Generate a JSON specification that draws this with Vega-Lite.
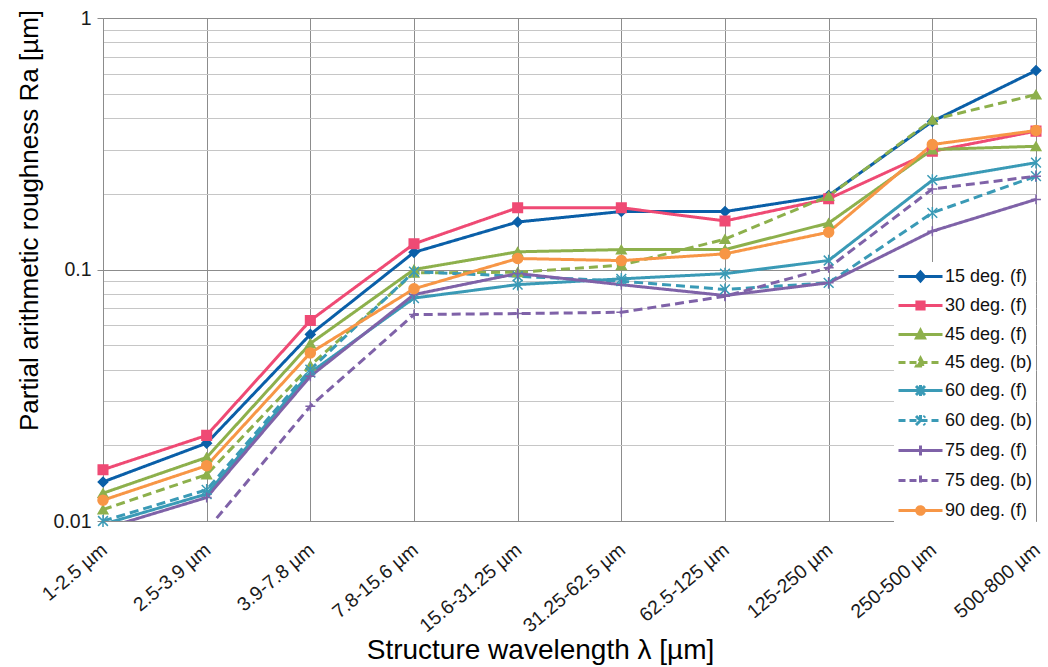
{
  "$schema": "https://vega.github.io/schema/vega-lite/v6.json",
  "width": 933,
  "height": 503,
  "autosize": {"type": "none"},
  "padding": {"left": 103, "top": 18, "right": 12, "bottom": 146},
  "background": "white",
  "config": {"view": {"stroke": null}, "font": "Liberation Sans"},
  "datasets": {
    "roughness": [
      {"band": "1-2.5 µm", "series": "15 deg. (f)", "ra": 0.0143},
      {"band": "2.5-3.9 µm", "series": "15 deg. (f)", "ra": 0.0204},
      {"band": "3.9-7.8 µm", "series": "15 deg. (f)", "ra": 0.0552},
      {"band": "7.8-15.6 µm", "series": "15 deg. (f)", "ra": 0.117},
      {"band": "15.6-31.25 µm", "series": "15 deg. (f)", "ra": 0.1545},
      {"band": "31.25-62.5 µm", "series": "15 deg. (f)", "ra": 0.170},
      {"band": "62.5-125 µm", "series": "15 deg. (f)", "ra": 0.170},
      {"band": "125-250 µm", "series": "15 deg. (f)", "ra": 0.197},
      {"band": "250-500 µm", "series": "15 deg. (f)", "ra": 0.388},
      {"band": "500-800 µm", "series": "15 deg. (f)", "ra": 0.618},

      {"band": "1-2.5 µm", "series": "30 deg. (f)", "ra": 0.0160},
      {"band": "2.5-3.9 µm", "series": "30 deg. (f)", "ra": 0.0219},
      {"band": "3.9-7.8 µm", "series": "30 deg. (f)", "ra": 0.0627},
      {"band": "7.8-15.6 µm", "series": "30 deg. (f)", "ra": 0.1265},
      {"band": "15.6-31.25 µm", "series": "30 deg. (f)", "ra": 0.176},
      {"band": "31.25-62.5 µm", "series": "30 deg. (f)", "ra": 0.176},
      {"band": "62.5-125 µm", "series": "30 deg. (f)", "ra": 0.156},
      {"band": "125-250 µm", "series": "30 deg. (f)", "ra": 0.191},
      {"band": "250-500 µm", "series": "30 deg. (f)", "ra": 0.295},
      {"band": "500-800 µm", "series": "30 deg. (f)", "ra": 0.355},

      {"band": "1-2.5 µm", "series": "45 deg. (f)", "ra": 0.0129},
      {"band": "2.5-3.9 µm", "series": "45 deg. (f)", "ra": 0.0179},
      {"band": "3.9-7.8 µm", "series": "45 deg. (f)", "ra": 0.0508},
      {"band": "7.8-15.6 µm", "series": "45 deg. (f)", "ra": 0.100},
      {"band": "15.6-31.25 µm", "series": "45 deg. (f)", "ra": 0.1176},
      {"band": "31.25-62.5 µm", "series": "45 deg. (f)", "ra": 0.120},
      {"band": "62.5-125 µm", "series": "45 deg. (f)", "ra": 0.120},
      {"band": "125-250 µm", "series": "45 deg. (f)", "ra": 0.153},
      {"band": "250-500 µm", "series": "45 deg. (f)", "ra": 0.300},
      {"band": "500-800 µm", "series": "45 deg. (f)", "ra": 0.309},

      {"band": "1-2.5 µm", "series": "45 deg. (b)", "ra": 0.0111},
      {"band": "2.5-3.9 µm", "series": "45 deg. (b)", "ra": 0.0153},
      {"band": "3.9-7.8 µm", "series": "45 deg. (b)", "ra": 0.0415},
      {"band": "7.8-15.6 µm", "series": "45 deg. (b)", "ra": 0.097},
      {"band": "15.6-31.25 µm", "series": "45 deg. (b)", "ra": 0.0975},
      {"band": "31.25-62.5 µm", "series": "45 deg. (b)", "ra": 0.104},
      {"band": "62.5-125 µm", "series": "45 deg. (b)", "ra": 0.132},
      {"band": "125-250 µm", "series": "45 deg. (b)", "ra": 0.196},
      {"band": "250-500 µm", "series": "45 deg. (b)", "ra": 0.394},
      {"band": "500-800 µm", "series": "45 deg. (b)", "ra": 0.496},

      {"band": "1-2.5 µm", "series": "60 deg. (f)", "ra": 0.0097},
      {"band": "2.5-3.9 µm", "series": "60 deg. (f)", "ra": 0.0128},
      {"band": "3.9-7.8 µm", "series": "60 deg. (f)", "ra": 0.0389},
      {"band": "7.8-15.6 µm", "series": "60 deg. (f)", "ra": 0.077},
      {"band": "15.6-31.25 µm", "series": "60 deg. (f)", "ra": 0.0871},
      {"band": "31.25-62.5 µm", "series": "60 deg. (f)", "ra": 0.0918},
      {"band": "62.5-125 µm", "series": "60 deg. (f)", "ra": 0.0963},
      {"band": "125-250 µm", "series": "60 deg. (f)", "ra": 0.1086},
      {"band": "250-500 µm", "series": "60 deg. (f)", "ra": 0.2265},
      {"band": "500-800 µm", "series": "60 deg. (f)", "ra": 0.266},

      {"band": "1-2.5 µm", "series": "60 deg. (b)", "ra": 0.0100},
      {"band": "2.5-3.9 µm", "series": "60 deg. (b)", "ra": 0.0133},
      {"band": "3.9-7.8 µm", "series": "60 deg. (b)", "ra": 0.0400},
      {"band": "7.8-15.6 µm", "series": "60 deg. (b)", "ra": 0.098},
      {"band": "15.6-31.25 µm", "series": "60 deg. (b)", "ra": 0.094},
      {"band": "31.25-62.5 µm", "series": "60 deg. (b)", "ra": 0.0899},
      {"band": "62.5-125 µm", "series": "60 deg. (b)", "ra": 0.0833},
      {"band": "125-250 µm", "series": "60 deg. (b)", "ra": 0.0885},
      {"band": "250-500 µm", "series": "60 deg. (b)", "ra": 0.168},
      {"band": "500-800 µm", "series": "60 deg. (b)", "ra": 0.235},

      {"band": "1-2.5 µm", "series": "75 deg. (f)", "ra": 0.0093},
      {"band": "2.5-3.9 µm", "series": "75 deg. (f)", "ra": 0.0124},
      {"band": "3.9-7.8 µm", "series": "75 deg. (f)", "ra": 0.0376},
      {"band": "7.8-15.6 µm", "series": "75 deg. (f)", "ra": 0.0795},
      {"band": "15.6-31.25 µm", "series": "75 deg. (f)", "ra": 0.0964},
      {"band": "31.25-62.5 µm", "series": "75 deg. (f)", "ra": 0.087},
      {"band": "62.5-125 µm", "series": "75 deg. (f)", "ra": 0.0788},
      {"band": "125-250 µm", "series": "75 deg. (f)", "ra": 0.0885},
      {"band": "250-500 µm", "series": "75 deg. (f)", "ra": 0.142},
      {"band": "500-800 µm", "series": "75 deg. (f)", "ra": 0.190},

      {"band": "1-2.5 µm", "series": "75 deg. (b)", "ra": 0.0065},
      {"band": "2.5-3.9 µm", "series": "75 deg. (b)", "ra": 0.0092},
      {"band": "3.9-7.8 µm", "series": "75 deg. (b)", "ra": 0.0286},
      {"band": "7.8-15.6 µm", "series": "75 deg. (b)", "ra": 0.0662},
      {"band": "15.6-31.25 µm", "series": "75 deg. (b)", "ra": 0.0668},
      {"band": "31.25-62.5 µm", "series": "75 deg. (b)", "ra": 0.0676},
      {"band": "62.5-125 µm", "series": "75 deg. (b)", "ra": 0.0783},
      {"band": "125-250 µm", "series": "75 deg. (b)", "ra": 0.1016},
      {"band": "250-500 µm", "series": "75 deg. (b)", "ra": 0.209},
      {"band": "500-800 µm", "series": "75 deg. (b)", "ra": 0.235},

      {"band": "1-2.5 µm", "series": "90 deg. (f)", "ra": 0.0121},
      {"band": "2.5-3.9 µm", "series": "90 deg. (f)", "ra": 0.0166},
      {"band": "3.9-7.8 µm", "series": "90 deg. (f)", "ra": 0.0466},
      {"band": "7.8-15.6 µm", "series": "90 deg. (f)", "ra": 0.0838},
      {"band": "15.6-31.25 µm", "series": "90 deg. (f)", "ra": 0.1106},
      {"band": "31.25-62.5 µm", "series": "90 deg. (f)", "ra": 0.1085},
      {"band": "62.5-125 µm", "series": "90 deg. (f)", "ra": 0.1154},
      {"band": "125-250 µm", "series": "90 deg. (f)", "ra": 0.1407},
      {"band": "250-500 µm", "series": "90 deg. (f)", "ra": 0.314},
      {"band": "500-800 µm", "series": "90 deg. (f)", "ra": 0.357}
    ]
  },
  "data": {"name": "roughness"},
  "layer": [
    {
      "mark": {"type": "line", "strokeWidth": 3, "clip": true},
      "encoding": {
        "x": {
          "field": "band",
          "type": "ordinal",
          "sort": ["1-2.5 µm", "2.5-3.9 µm", "3.9-7.8 µm", "7.8-15.6 µm", "15.6-31.25 µm", "31.25-62.5 µm", "62.5-125 µm", "125-250 µm", "250-500 µm", "500-800 µm"],
          "scale": {"type": "point", "padding": 0},
          "axis": {
            "title": "Structure wavelength λ [µm]",
            "titleFontSize": 28,
            "titleFontWeight": "normal",
            "titleColor": "#000000",
            "titleX": 437,
            "titleY": 129,
            "titleAlign": "center",
            "titleBaseline": "middle",
            "labelAngle": -40,
            "labelAlign": "right",
            "labelBaseline": "middle",
            "labelFontSize": 19.5,
            "labelColor": "#1a1a1a",
            "labelPadding": 26,
            "labelOffset": 1,
            "ticks": false,
            "grid": true,
            "gridColor": "#8c8c8c",
            "domainColor": "#8c8c8c"
          }
        },
        "y": {
          "field": "ra",
          "type": "quantitative",
          "scale": {"type": "log", "domain": [0.01, 1], "nice": false},
          "axis": {
            "values": [0.01, 0.02, 0.03, 0.04, 0.05, 0.06, 0.07, 0.08, 0.09, 0.1, 0.2, 0.3, 0.4, 0.5, 0.6, 0.7, 0.8, 0.9, 1],
            "labelExpr": "datum.value == 1 ? '1' : datum.value == 0.1 ? '0.1' : datum.value == 0.01 ? '0.01' : ''",
            "labelOverlap": false,
            "labelFontSize": 19.5,
            "labelColor": "#1a1a1a",
            "labelPadding": 6,
            "grid": true,
            "gridColor": {"condition": {"test": "datum.value == 1 || datum.value == 0.1 || datum.value == 0.01", "value": "#8c8c8c"}, "value": "#c6c6c6"},
            "tickOpacity": {"condition": {"test": "datum.value == 1 || datum.value == 0.1 || datum.value == 0.01", "value": 1}, "value": 0},
            "tickColor": "#8c8c8c",
            "tickSize": 6,
            "domainColor": "#8c8c8c",
            "title": "Partial arithmetic roughness Ra [µm]",
            "titleFontSize": 26,
            "titleFontWeight": "normal",
            "titleColor": "#000000",
            "titleAngle": -90,
            "titleAlign": "center",
            "titleBaseline": "middle",
            "titleX": -74,
            "titleY": 202
          }
        },
        "color": {
          "field": "series",
          "type": "nominal",
          "scale": {
            "domain": ["15 deg. (f)", "30 deg. (f)", "45 deg. (f)", "45 deg. (b)", "60 deg. (f)", "60 deg. (b)", "75 deg. (f)", "75 deg. (b)", "90 deg. (f)"],
            "range": ["#0a5fa8", "#ef4a74", "#8db04c", "#8db04c", "#3a9ab6", "#3a9ab6", "#7f62a8", "#7f62a8", "#f79646"]
          },
          "legend": {
            "title": null,
            "orient": "none",
            "legendX": 791,
            "legendY": 244,
            "fillColor": "white",
            "padding": 3,
            "rowPadding": 7,
            "labelFontSize": 18,
            "labelColor": "#111111",
            "labelOffset": 25,
            "symbolSize": 400,
            "symbolStrokeWidth": 3,
            "encode": {
              "symbols": {
                "update": {
                  "shape": {"signal": "slice(datum.value,0,2) == '15' ? 'M-1,0H3.4M1.2,-0.45L1.6,0L1.2,0.45L0.8,0Z' : slice(datum.value,0,2) == '30' ? 'M-1,0H3.4M0.84,-0.36H1.56V0.36H0.84Z' : slice(datum.value,0,2) == '45' ? 'M-1,0H3.4M1.2,-0.42L1.6,0.34H0.8Z' : slice(datum.value,0,2) == '60' ? 'M-1,0H3.4M0.75,-0.45L1.65,0.45M0.75,0.45L1.65,-0.45M1.2,-0.55V0.55' : slice(datum.value,0,2) == '75' ? 'M-1,0H3.4M1.2,-0.5V0.5' : 'M-1,0H3.4M1.58,0A0.38,0.38,0,1,1,0.82,0A0.38,0.38,0,1,1,1.58,0Z'"},
                  "strokeDash": {"signal": "indexof(datum.value, '(b)') >= 0 ? [7, 4] : [1, 0]"},
                  "fill": {"signal": "scale('color', datum.value)"},
                  "stroke": {"signal": "scale('color', datum.value)"},
                  "size": {"value": 400},
                  "strokeWidth": {"value": 3},
                  "opacity": {"value": 1}
                }
              }
            }
          }
        },
        "strokeDash": {
          "field": "series",
          "type": "nominal",
          "scale": {
            "domain": ["15 deg. (f)", "30 deg. (f)", "45 deg. (b)", "45 deg. (f)", "60 deg. (b)", "60 deg. (f)", "75 deg. (b)", "75 deg. (f)", "90 deg. (f)"],
            "range": [[1, 0], [1, 0], [9, 5], [1, 0], [9, 5], [1, 0], [9, 5], [1, 0], [1, 0]]
          },
          "legend": null
        }
      }
    },
    {
      "transform": [{"filter": "datum.ra >= 0.0099"}],
      "mark": {"type": "point", "opacity": 1, "strokeWidth": 1.5},
      "encoding": {
        "x": {
          "field": "band",
          "type": "ordinal",
          "sort": ["1-2.5 µm", "2.5-3.9 µm", "3.9-7.8 µm", "7.8-15.6 µm", "15.6-31.25 µm", "31.25-62.5 µm", "62.5-125 µm", "125-250 µm", "250-500 µm", "500-800 µm"]
        },
        "y": {"field": "ra", "type": "quantitative"},
        "fill": {
          "field": "series",
          "type": "nominal",
          "scale": {
            "domain": ["90 deg. (f)", "75 deg. (b)", "75 deg. (f)", "60 deg. (b)", "60 deg. (f)", "45 deg. (b)", "45 deg. (f)", "30 deg. (f)", "15 deg. (f)"],
            "range": ["#f79646", "#7f62a8", "#7f62a8", "#3a9ab6", "#3a9ab6", "#8db04c", "#8db04c", "#ef4a74", "#0a5fa8"]
          },
          "legend": null
        },
        "stroke": {
          "field": "series",
          "type": "nominal",
          "scale": {
            "domain": ["90 deg. (f)", "75 deg. (b)", "75 deg. (f)", "60 deg. (b)", "60 deg. (f)", "45 deg. (b)", "45 deg. (f)", "30 deg. (f)", "15 deg. (f)"],
            "range": ["#f79646", "#7f62a8", "#7f62a8", "#3a9ab6", "#3a9ab6", "#8db04c", "#8db04c", "#ef4a74", "#0a5fa8"]
          },
          "legend": null
        },
        "shape": {
          "field": "series",
          "type": "nominal",
          "scale": {
            "domain": ["90 deg. (f)", "75 deg. (b)", "75 deg. (f)", "60 deg. (b)", "60 deg. (f)", "45 deg. (b)", "45 deg. (f)", "30 deg. (f)", "15 deg. (f)"],
            "range": ["circle", "M-1,0H1M0,-1V1", "M-1,0H1M0,-1V1", "M-1,-1L1,1M-1,1L1,-1M0,-1.2V1.2", "M-1,-1L1,1M-1,1L1,-1M0,-1.2V1.2", "triangle-up", "triangle-up", "square", "diamond"]
          },
          "legend": null
        },
        "size": {
          "field": "series",
          "type": "ordinal",
          "scale": {
            "domain": ["90 deg. (f)", "75 deg. (b)", "75 deg. (f)", "60 deg. (b)", "60 deg. (f)", "45 deg. (b)", "45 deg. (f)", "30 deg. (f)", "15 deg. (f)"],
            "range": [100, 90, 90, 90, 90, 120, 120, 110, 90]
          },
          "legend": null
        }
      }
    }
  ]
}
